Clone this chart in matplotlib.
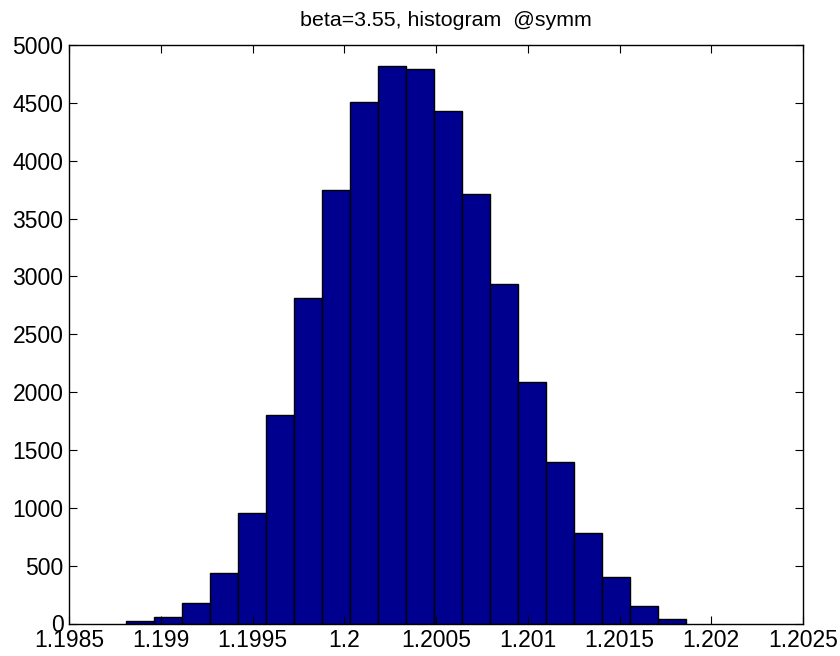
import numpy as np
import matplotlib
matplotlib.use("Agg")
import matplotlib.pyplot as plt

plt.rcParams['font.family'] = ['Liberation Sans', 'DejaVu Sans']

# Histogram of the symmetric observable: 20 equal-width bins
bin_start = 1.198811
bin_width = 0.0001525
counts = [25, 58, 181, 436, 955, 1802, 2810, 3750, 4505, 4816,
          4790, 4427, 3716, 2930, 2084, 1399, 780, 403, 147, 38]

x_ticks = [1.1985, 1.199, 1.1995, 1.2, 1.2005, 1.201, 1.2015, 1.202, 1.2025]
x_tick_labels = ['1.1985', '1.199', '1.1995', '1.2', '1.2005', '1.201',
                 '1.2015', '1.202', '1.2025']
y_ticks = list(range(0, 5001, 500))

edges = bin_start + bin_width * np.arange(len(counts) + 1)

fig = plt.figure(figsize=(8.4, 6.56), dpi=100)
ax = fig.add_axes([69 / 840, 1 - 623.5 / 656, (803 - 69) / 840, (623.5 - 45) / 656])

ax.bar(edges[:-1], counts, width=bin_width, align='edge',
       color='#00008F', edgecolor='black', linewidth=1.0)

ax.set_xlim(1.1985, 1.2025)
ax.set_ylim(0, 5000)
ax.set_xticks(x_ticks)
ax.set_xticklabels(x_tick_labels)
ax.set_yticks(y_ticks)
ax.tick_params(direction='in', length=6, width=0.8, top=True, right=True,
               labelsize=16.5, pad=4)
for s in ax.spines.values():
    s.set_linewidth(1.0)

title = ax.set_title('beta=3.55, histogram  @symm', fontsize=15.4, pad=14)
title.set_x(0.5 + 10 / 734)

fig.savefig('out.png', dpi=100)
